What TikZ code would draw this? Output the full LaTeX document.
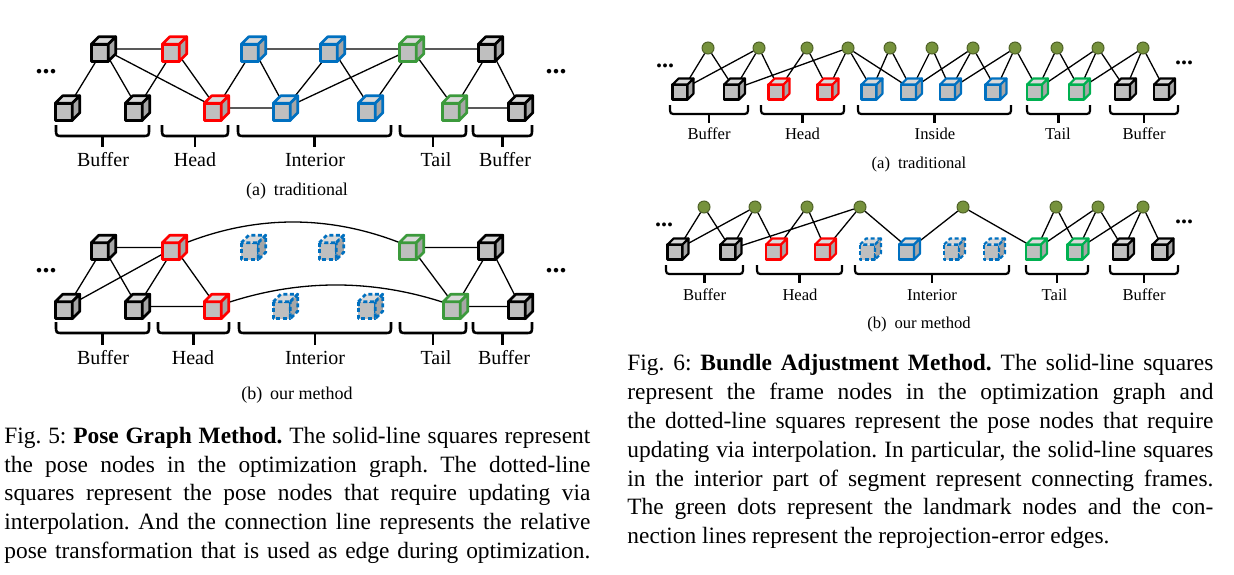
\documentclass[tikz,border=0pt]{standalone}
\usepackage{fontspec}
\setmainfont{Liberation Serif}
\usetikzlibrary{calc}
\frenchspacing
\definecolor{cfront}{HTML}{BFBFBF}
\definecolor{ctop}{HTML}{D9D9D9}
\definecolor{cside}{HTML}{A6A6A6}
\definecolor{cred}{HTML}{FF0000}
\definecolor{cblue}{HTML}{0070C0}
\definecolor{cgreenL}{HTML}{3C9A3C}
\definecolor{cgreenR}{HTML}{00B050}
\definecolor{cdot}{HTML}{76923C}
\definecolor{cdotline}{HTML}{4F6228}
\newcommand\mybrace[5]{%
  \draw[bracket] (#1,#3) -- (#1,{#4-7}) .. controls (#1,#4) .. ({#1+7},#4) -- ({#2-7},#4) .. controls (#2,#4) .. (#2,{#4-7}) -- (#2,#3);
  \draw[bracket] ($(#1,#4)!0.5!(#2,#4)$) -- ++(0,{#5-#4});}
\tikzset{
  pics/lcube/.style 2 args={code={
    \path[fill=cfront,draw=#1,line width=1.35pt,line join=round,#2] (-12.25,-4.75) rectangle (4.75,12.25);
    \path[fill=ctop,draw=#1,line width=1.35pt,line join=round,#2] (-12.25,-4.75) -- (-4.75,-12.25) -- (12.25,-12.25) -- (4.75,-4.75) -- cycle;
    \path[fill=cside,draw=#1,line width=1.35pt,line join=round,#2] (4.75,-4.75) -- (12.25,-12.25) -- (12.25,4.75) -- (4.75,12.25) -- cycle;
  }},
  pics/rcube/.style 2 args={code={
    \path[fill=cfront,draw=#1,line width=1.05pt,line join=round,#2] (-10.5,-4.5) rectangle (4.5,10.5);
    \path[fill=ctop,draw=#1,line width=1.05pt,line join=round,#2] (-10.5,-4.5) -- (-4.5,-10.5) -- (10.5,-10.5) -- (4.5,-4.5) -- cycle;
    \path[fill=cside,draw=#1,line width=1.05pt,line join=round,#2] (4.5,-4.5) -- (10.5,-10.5) -- (10.5,4.5) -- (4.5,10.5) -- cycle;
  }},
}
\begin{document}
\begin{tikzpicture}[x=0.5pt,y=-0.5pt,
  link/.style={line width=0.65pt,draw=black},
  bracket/.style={line width=1.3pt,draw=black},
  lbl/.style={font=\fontsize{10}{12}\selectfont,inner sep=0pt,anchor=base},
  rlbl/.style={font=\fontsize{8.3}{10}\selectfont,inner sep=0pt,anchor=base},
  subcap/.style={font=\fontsize{9}{11}\selectfont,inner sep=0pt,anchor=base},
  rsubcap/.style={font=\fontsize{8.3}{10}\selectfont,inner sep=0pt,anchor=base},
  capline/.style={font=\fontsize{11.7}{14.5}\selectfont,inner sep=0pt,anchor=base west},
  landmark/.style={circle,fill=cdot,draw=cdotline,line width=0.5pt,minimum size=6pt,inner sep=0pt},
  cdash/.style={dash pattern=on 2pt off 1.3pt},
  ddd/.style={font=\fontsize{14}{14}\selectfont\bfseries,inner sep=0pt},
  rddd/.style={font=\fontsize{12}{12}\selectfont\bfseries,inner sep=0pt}
]
\useasboundingbox (0,0) rectangle (1234,574);

% ================= Left (a) =================
\coordinate (A1) at (103.5,49);
\coordinate (A2) at (67.5,108);
\coordinate (A3) at (137.5,108);
\coordinate (A4) at (174.5,49);
\coordinate (A5) at (216.5,108);
\coordinate (A6) at (253.5,49);
\coordinate (A7) at (285.5,108);
\coordinate (A8) at (332.5,49);
\coordinate (A9) at (370.5,108);
\coordinate (A10) at (411.5,49);
\coordinate (A11) at (454.5,108);
\coordinate (A12) at (490.5,49);
\coordinate (A13) at (520.5,108);
\draw[link] (A1)--(A4) (A1)--(A2) (A1)--(A3) (A1)--(A5) (A4)--(A3) (A4)--(A5)
  (A5)--(A6) (A5)--(A7) (A6)--(A8) (A6)--(A7) (A7)--(A8) (A7)--(A10)
  (A8)--(A9) (A9)--(A10) (A8)--(A10) (A10)--(A12) (A10)--(A11) (A11)--(A12)
  (A11)--(A13) (A12)--(A13);
\pic at (A1) {lcube={black}{}};
\pic at (A2) {lcube={black}{}};
\pic at (A3) {lcube={black}{}};
\pic at (A4) {lcube={cred}{}};
\pic at (A5) {lcube={cred}{}};
\pic at (A6) {lcube={cblue}{}};
\pic at (A7) {lcube={cblue}{}};
\pic at (A8) {lcube={cblue}{}};
\pic at (A9) {lcube={cblue}{}};
\pic at (A10) {lcube={cgreenL}{}};
\pic at (A11) {lcube={cgreenL}{}};
\pic at (A12) {lcube={black}{}};
\pic at (A13) {lcube={black}{}};
\node[ddd] (ad1) at (46,72) {...};
\node[ddd] (ad2) at (556,72) {...};
\mybrace{56}{149}{125}{136}{147}
\mybrace{162}{228}{125}{136}{147}
\mybrace{238}{391}{125}{136}{147}
\mybrace{400}{466}{125}{136}{147}
\mybrace{473}{532}{125}{136}{147}
\node[lbl] (al1) at (103,166) {Buffer};
\node[lbl] (al2) at (195,166) {Head};
\node[lbl] (al3) at (315,166) {Interior};
\node[lbl] (al4) at (436,166) {Tail};
\node[lbl] (al5) at (505,166) {Buffer};
\node[subcap] (asc) at (297,195) {(a)\hspace{4pt}traditional};

% ================= Left (b) =================
\coordinate (B1) at (103.5,247.5);
\coordinate (B2) at (67.5,306.5);
\coordinate (B3) at (137.5,306.5);
\coordinate (B4) at (174.5,247.5);
\coordinate (B5) at (216.5,306.5);
\coordinate (B6) at (253.5,247.5);
\coordinate (B7) at (285.5,306.5);
\coordinate (B8) at (331.5,247.5);
\coordinate (B9) at (370.5,306.5);
\coordinate (B10) at (411.5,247.5);
\coordinate (B11) at (455.5,306.5);
\coordinate (B12) at (490.5,247.5);
\coordinate (B13) at (520.5,306.5);
\draw[link] (B1)--(B4) (B1)--(B2) (B1)--(B3) (B2)--(B4) (B4)--(B3) (B4)--(B5) (B3)--(B5)
  (B10)--(B12) (B10)--(B11) (B11)--(B12) (B11)--(B13) (B12)--(B13);
\draw[link] (B4) .. controls (253,213.5) and (333,213.5) .. (B10);
\draw[link] (B5) .. controls (296,277.8) and (376,277.8) .. (B11);
\pic at (B1) {lcube={black}{}};
\pic at (B2) {lcube={black}{}};
\pic at (B3) {lcube={black}{}};
\pic at (B4) {lcube={cred}{}};
\pic at (B5) {lcube={cred}{}};
\pic at (B6) {lcube={cblue}{cdash}};
\pic at (B7) {lcube={cblue}{cdash}};
\pic at (B8) {lcube={cblue}{cdash}};
\pic at (B9) {lcube={cblue}{cdash}};
\pic at (B10) {lcube={cgreenL}{}};
\pic at (B11) {lcube={cgreenL}{}};
\pic at (B12) {lcube={black}{}};
\pic at (B13) {lcube={black}{}};
\node[ddd] (bd1) at (46,271) {...};
\node[ddd] (bd2) at (556,271) {...};
\mybrace{56}{149}{322}{333}{345}
\mybrace{158}{229}{322}{333}{345}
\mybrace{239}{391}{322}{333}{345}
\mybrace{400}{466}{322}{333}{345}
\mybrace{473}{532}{322}{333}{345}
\node[lbl] (bl1) at (103,364) {Buffer};
\node[lbl] (bl2) at (193,364) {Head};
\node[lbl] (bl3) at (315,364) {Interior};
\node[lbl] (bl4) at (436,364) {Tail};
\node[lbl] (bl5) at (504,364) {Buffer};
\node[subcap] (bsc) at (297,399) {(b)\hspace{4pt}our method};

% ================= Right (a) =================
\coordinate (R1) at (683,89);
\coordinate (R2) at (734.5,89);
\coordinate (R3) at (779,89);
\coordinate (R4) at (828,89);
\coordinate (R5) at (872,89);
\coordinate (R6) at (911.5,89);
\coordinate (R7) at (950.5,89);
\coordinate (R8) at (996,89);
\coordinate (R9) at (1037.5,89);
\coordinate (R10) at (1079.5,89);
\coordinate (R11) at (1125.5,89);
\coordinate (R12) at (1164.5,89);
\node[landmark] (L1) at (708,48) {};
\node[landmark] (L2) at (759,48) {};
\node[landmark] (L3) at (807,48) {};
\node[landmark] (L4) at (848,48) {};
\node[landmark] (L5) at (890,48) {};
\node[landmark] (L6) at (932,48) {};
\node[landmark] (L7) at (973,48) {};
\node[landmark] (L8) at (1015,48) {};
\node[landmark] (L9) at (1057,48) {};
\node[landmark] (L10) at (1098,48) {};
\node[landmark] (L11) at (1143,48) {};
\draw[link] (L1)--(R1) (L1)--(R2)
  (L2)--(R1) (L2)--(R2) (L2)--(R3)
  (L3)--(R3) (L3)--(R4)
  (L4)--(R2) (L4)--(R4) (L4)--(R5) (L4)--(R6)
  (L5)--(R5) (L5)--(R6)
  (L6)--(R6) (L6)--(R7)
  (L7)--(R6) (L7)--(R7) (L7)--(R8)
  (L8)--(R7) (L8)--(R8) (L8)--(R9)
  (L9)--(R9) (L9)--(R10)
  (L10)--(R9) (L10)--(R10) (L10)--(R11)
  (L11)--(R10) (L11)--(R11) (L11)--(R12);
\pic at (R1) {rcube={black}{}};
\pic at (R2) {rcube={black}{}};
\pic at (R3) {rcube={cred}{}};
\pic at (R4) {rcube={cred}{}};
\pic at (R5) {rcube={cblue}{}};
\pic at (R6) {rcube={cblue}{}};
\pic at (R7) {rcube={cblue}{}};
\pic at (R8) {rcube={cblue}{}};
\pic at (R9) {rcube={cgreenR}{}};
\pic at (R10) {rcube={cgreenR}{}};
\pic at (R11) {rcube={black}{}};
\pic at (R12) {rcube={black}{}};
\node[rddd] (cd1) at (665,66) {...};
\node[rddd] (cd2) at (1184,63) {...};
\begin{scope}[bracket/.style={line width=1.1pt,draw=black}]
\mybrace{670}{748}{105}{114}{123}
\mybrace{761}{844}{105}{114}{123}
\mybrace{858}{1011}{105}{114}{123}
\mybrace{1027}{1090}{105}{114}{123}
\mybrace{1110}{1178}{105}{114}{123}
\end{scope}
\node[rlbl] (cl1) at (709,139) {Buffer};
\node[rlbl] (cl2) at (802.5,139) {Head};
\node[rlbl] (cl3) at (935,139) {Inside};
\node[rlbl] (cl4) at (1058,139) {Tail};
\node[rlbl] (cl5) at (1144,139) {Buffer};
\node[rsubcap] (csc) at (919,168) {(a)\hspace{4pt}traditional};

% ================= Right (b) =================
\coordinate (S1) at (678,249);
\coordinate (S2) at (731,249);
\coordinate (S3) at (776.5,249);
\coordinate (S4) at (825.5,249);
\coordinate (S5) at (870.5,249);
\coordinate (S6) at (909.5,249);
\coordinate (S7) at (954.5,249);
\coordinate (S8) at (994.5,249);
\coordinate (S9) at (1036.5,249);
\coordinate (S10) at (1078,249);
\coordinate (S11) at (1123.5,249);
\coordinate (S12) at (1163,249);
\node[landmark] (M1) at (704,207) {};
\node[landmark] (M2) at (755,207) {};
\node[landmark] (M3) at (807,207) {};
\node[landmark] (M4) at (860,207) {};
\node[landmark] (M5) at (963,207) {};
\node[landmark] (M6) at (1056,207) {};
\node[landmark] (M7) at (1098,207) {};
\node[landmark] (M8) at (1143,207) {};
\draw[link] (M1)--(S1) (M1)--(S2)
  (M2)--(S1) (M2)--(S2) (M2)--(S3)
  (M3)--(S3) (M3)--(S4)
  (M4)--(S2) (M4)--(S4) (M4)--(S6)
  (M5)--(S6) (M5)--(S9)
  (M6)--(S9) (M6)--(S10)
  (M7)--(S9) (M7)--(S10) (M7)--(S11)
  (M8)--(S10) (M8)--(S11) (M8)--(S12);
\pic at (S1) {rcube={black}{}};
\pic at (S2) {rcube={black}{}};
\pic at (S3) {rcube={cred}{}};
\pic at (S4) {rcube={cred}{}};
\pic at (S5) {rcube={cblue}{cdash}};
\pic at (S6) {rcube={cblue}{}};
\pic at (S7) {rcube={cblue}{cdash}};
\pic at (S8) {rcube={cblue}{cdash}};
\pic at (S9) {rcube={cgreenR}{}};
\pic at (S10) {rcube={cgreenR}{}};
\pic at (S11) {rcube={black}{}};
\pic at (S12) {rcube={black}{}};
\node[rddd] (dd1) at (664,225) {...};
\node[rddd] (dd2) at (1184,222) {...};
\begin{scope}[bracket/.style={line width=1.1pt,draw=black}]
\mybrace{666}{743}{265}{274}{283}
\mybrace{757}{842}{265}{274}{283}
\mybrace{855}{1009}{265}{274}{283}
\mybrace{1026}{1088}{265}{274}{283}
\mybrace{1110}{1178}{265}{274}{283}
\end{scope}
\node[rlbl] (dl1) at (704.5,300) {Buffer};
\node[rlbl] (dl2) at (800,300) {Head};
\node[rlbl] (dl3) at (932,300) {Interior};
\node[rlbl] (dl4) at (1054.5,300) {Tail};
\node[rlbl] (dl5) at (1144,300) {Buffer};
\node[rsubcap] (dsc) at (919,328) {(b)\hspace{4pt}our method};

% ================= Captions =================
\node[capline] (lc1) at (4,443) {\makebox[293pt][s]{Fig. 5: \textbf{Pose Graph Method.} The solid-line squares represent}};
\node[capline] (lc2) at (4,472) {\makebox[293pt][s]{the pose nodes in the optimization graph. The dotted-line}};
\node[capline] (lc3) at (4,500) {\makebox[293pt][s]{squares represent the pose nodes that require updating via}};
\node[capline] (lc4) at (4,529) {\makebox[293pt][s]{interpolation. And the connection line represents the relative}};
\node[capline] (lc5) at (4,558) {\makebox[293pt][s]{pose transformation that is used as edge during optimization.}};

\node[capline] (rc1) at (627,370) {\makebox[293pt][s]{Fig. 6: \textbf{Bundle Adjustment Method.} The solid-line squares}};
\node[capline] (rc2) at (627,399) {\makebox[293pt][s]{represent the frame nodes in the optimization graph and}};
\node[capline] (rc3) at (627,428) {\makebox[293pt][s]{the dotted-line squares represent the pose nodes that require}};
\node[capline] (rc4) at (627,457) {\makebox[293pt][s]{updating via interpolation. In particular, the solid-line squares}};
\node[capline] (rc5) at (627,486) {\makebox[293pt][s]{in the interior part of segment represent connecting frames.}};
\node[capline] (rc6) at (627,514) {\makebox[293pt][s]{The green dots represent the landmark nodes and the con-}};
\node[capline] (rc7) at (627,543) {nection lines represent the reprojection-error edges.};
\end{tikzpicture}
\end{document}
